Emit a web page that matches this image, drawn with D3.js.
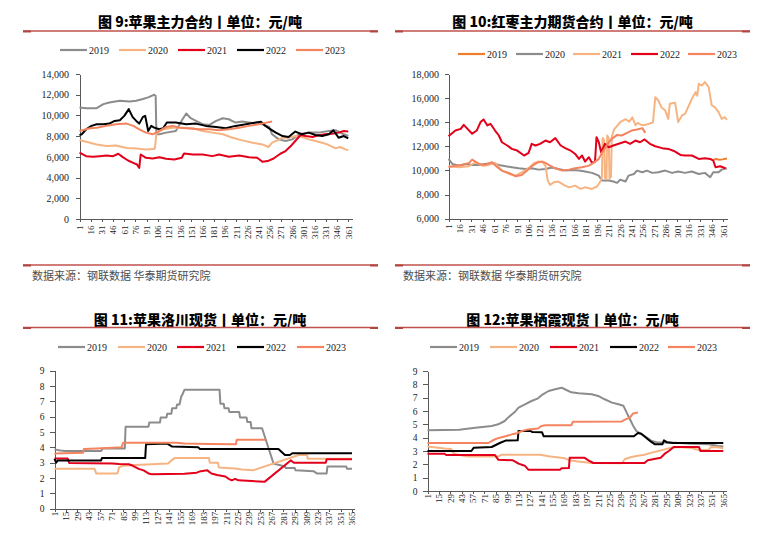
<!DOCTYPE html>
<meta charset="utf-8">
<script src="https://d3js.org/d3.v7.min.js"></script>
<style>
body { margin: 0; background: #fff; }
svg { display: block; }
.title { font-family: "Noto Sans CJK SC", sans-serif; font-weight: 900; font-size: 14px; fill: #000; }
.source { font-family: "Noto Sans CJK SC", sans-serif; font-size: 11px; fill: #4d4d4d; }
.legend text { font-family: "Liberation Serif", serif; font-size: 10px; fill: #222; }
.axis text { font-family: "Liberation Serif", serif; fill: #222; }
.axis path, .axis line { stroke: #595959; shape-rendering: crispEdges; }
.series { fill: none; stroke-width: 2; stroke-linejoin: round; }
</style>
<body></body>
<script>

var years = ["2019", "2020", "2021", "2022", "2023"];

var daysFut = [1,16,31,46,61,76,91,106,121,136,151,166,181,196,211,226,241,256,271,286,301,316,331,346,361];
var daysSpot = [1,15,29,43,57,71,85,99,113,127,141,155,169,183,197,211,225,239,253,267,281,295,309,323,337,351,365];
var ticksFut9 = [0,2000,4000,6000,8000,10000,12000,14000];
var ticksFut10 = [6000,8000,10000,12000,14000,16000,18000];
var ticksSpot = [0,1,2,3,4,5,6,7,8,9];

// 图9 苹果主力合约 [day, 元/吨]
var apFut2019 = [[1,10770],[10,10700],[24,10700],[33,11090],[41,11250],[55,11420],[68,11350],[77,11420],[86,11580],[93,11740],[101,12000],[103,11900],[104,8180],[108,8180],[117,8340],[130,8500],[139,9630],[144,10190],[150,9730],[157,9470],[166,9150],[175,9080],[184,9470],[193,9730],[201,9630],[210,9310],[219,9410],[228,9310],[237,9210],[246,9150],[255,8890],[259,8180],[268,7690],[277,7530],[286,7690],[295,8180],[308,8340],[321,8340],[335,8500],[344,8570],[353,8240],[361,8010]];
var apFut2020 = [[1,7600],[10,7450],[24,7200],[37,7050],[50,7100],[64,6850],[77,6800],[90,6700],[100,6750],[102,6800],[104,8300],[113,8660],[126,8820],[139,8820],[153,8760],[166,8500],[179,8340],[193,8180],[206,7850],[219,7590],[233,7370],[246,7200],[254,6950],[259,7370],[266,7590],[273,7850],[281,7850],[290,8010],[299,7920],[308,7690],[317,7530],[326,7370],[335,7140],[344,6820],[350,6950],[357,6720],[361,6650]];
var apFut2021 = [[1,6400],[10,6070],[19,6010],[28,6070],[37,6140],[46,6070],[53,6300],[59,5970],[66,5650],[73,5420],[78,5260],[81,4940],[83,6230],[90,5910],[99,5840],[108,5970],[117,5810],[128,5750],[138,5910],[141,6330],[153,6230],[166,6230],[179,6070],[188,6230],[201,6010],[215,6140],[228,5970],[239,5910],[246,5520],[253,5590],[261,5840],[270,6300],[277,6560],[284,7040],[290,7530],[297,8110],[304,8010],[313,7920],[321,8080],[330,8180],[339,8240],[348,8340],[355,8500],[361,8440]];
var apFut2022 = [[1,8100],[4,8180],[10,8660],[17,8990],[24,9150],[33,9150],[41,9210],[48,9470],[55,9540],[61,9960],[67,10610],[72,9860],[77,9470],[81,9210],[86,9860],[89,9960],[93,8500],[97,8990],[101,8820],[108,8660],[113,8760],[118,9310],[130,9310],[144,9150],[157,9210],[170,8990],[184,8890],[197,8760],[210,8990],[224,9150],[237,9310],[244,9380],[250,8990],[257,8660],[264,8340],[273,8010],[281,7920],[290,8440],[299,8180],[308,8340],[317,8110],[326,8010],[335,8180],[341,8570],[348,7850],[355,8010],[361,7790]];
var apFut2023 = [[1,8500],[15,8760],[24,8820],[37,8990],[50,9150],[64,9210],[73,8990],[81,8660],[90,8340],[99,8180],[108,8500],[117,8890],[126,8990],[135,8820],[148,8730],[161,8660],[175,8660],[188,8570],[201,8660],[215,8820],[228,8990],[241,9150],[250,9280],[259,9410]];

// 图10 红枣主力期货合约 [day, 元/吨]
var jjFut2019 = [[348,10900],[352,10950],[356,10880],[360,10920],[366,11000]];
var jjFut2020 = [[1,10960],[6,10540],[15,10400],[23,10540],[32,10460],[41,10460],[49,10540],[58,10630],[67,10460],[76,10350],[84,10270],[93,10180],[102,10130],[110,10180],[119,10070],[128,10130],[137,10240],[145,10130],[154,9990],[163,10040],[172,9990],[180,9910],[189,9800],[198,9570],[202,9160],[211,9160],[217,9080],[222,8970],[226,9240],[233,9080],[237,9570],[244,9710],[248,9990],[255,9850],[261,9990],[268,9800],[276,9850],[285,9990],[294,9800],[302,9910],[311,9800],[320,9910],[329,9710],[337,9800],[344,9440],[348,9850],[355,9850],[359,10070],[366,10180]];
var jjFut2021 = [[1,10350],[15,10270],[28,10350],[36,10680],[45,10400],[54,10460],[62,10630],[71,9990],[80,9710],[89,9570],[97,9850],[106,10180],[113,10600],[119,10740],[124,10700],[128,10400],[131,9200],[134,8800],[139,9020],[145,9080],[152,8800],[159,8600],[167,8740],[174,8470],[180,8600],[189,8470],[196,8690],[200,9080],[202,9400],[203,12700],[205,12500],[206,9400],[208,9300],[209,12900],[211,12700],[212,9300],[214,9500],[215,12800],[218,13400],[222,13700],[226,14000],[233,14250],[238,14050],[242,14400],[246,13750],[249,13950],[253,13800],[257,13750],[264,13870],[269,14000],[272,16080],[276,15800],[280,15250],[285,14980],[289,14280],[291,15530],[298,15610],[302,14010],[307,14560],[311,14700],[316,15390],[320,15940],[325,16500],[327,16200],[329,17190],[333,17050],[337,17330],[342,16910],[346,15390],[350,15250],[355,14840],[359,14280],[363,14420],[366,14200]];
var jjFut2022 = [[1,12840],[10,13310],[17,13450],[21,13780],[25,13510],[32,13040],[38,13310],[43,14010],[47,14230],[52,13730],[56,13870],[62,13310],[67,12900],[71,12340],[78,12070],[84,11790],[91,11650],[100,11240],[106,11460],[110,12210],[115,12070],[121,12210],[128,12480],[134,12340],[141,12680],[148,12070],[154,11850],[161,11650],[167,11370],[172,10960],[176,11240],[180,10740],[185,11100],[189,10630],[193,10740],[195,12760],[198,12340],[201,11510],[206,12210],[211,11930],[217,12070],[224,12210],[233,12400],[239,12210],[246,12480],[252,12340],[258,12570],[265,12210],[272,12010],[281,11850],[289,11790],[298,11570],[305,11290],[311,11240],[320,11240],[329,10960],[337,11010],[344,10960],[348,10820],[351,10270],[357,10350],[364,10180]];
var jjFut2023 = [[1,10270],[10,10400],[19,10460],[28,10630],[32,10900],[41,10540],[49,10460],[58,10680],[65,10270],[71,9990],[80,9800],[89,9520],[97,9630],[104,9990],[110,10350],[117,10630],[124,10740],[128,10630],[134,10400],[141,10180],[150,9990],[159,10070],[167,10180],[176,10270],[185,10400],[191,10630],[198,10960],[202,11460],[207,11930],[211,12340],[215,12620],[222,12950],[228,12900],[235,13120],[241,13310],[248,13400],[255,13510],[259,13120]];

// 图11 苹果洛川现货 [day, 元/斤]
var lcSpot2019 = [[1,3.87],[8,3.8],[14,3.76],[58,3.76],[60,3.93],[87,3.93],[88,5.35],[116,5.35],[117,5.62],[130,5.62],[131,5.95],[138,5.95],[139,6.2],[144,6.2],[145,6.55],[150,6.55],[151,6.8],[154,6.8],[156,7.3],[158,7.5],[160,7.75],[203,7.75],[204,6.85],[208,6.85],[209,6.55],[214,6.55],[215,6.3],[227,6.3],[228,5.95],[236,5.95],[237,5.65],[241,5.65],[242,5.25],[255,5.25],[269,2.95],[283,2.75],[284,2.65],[295,2.65],[296,2.5],[318,2.45],[322,2.3],[334,2.3],[335,2.75],[358,2.75],[359,2.6],[365,2.6]];
var lcSpot2020 = [[1,2.6],[50,2.6],[52,2.3],[78,2.3],[80,2.7],[84,2.8],[100,2.85],[120,2.9],[140,2.95],[144,3.15],[148,3.3],[190,3.3],[191,3.0],[201,3.0],[202,2.68],[222,2.62],[230,2.55],[244,2.5],[300,3.5],[310,3.5],[311,3.25],[365,3.25]];
var lcSpot2021 = [[1,3.28],[17,3.28],[19,2.98],[72,2.95],[80,2.92],[92,2.9],[97,2.8],[104,2.6],[110,2.5],[116,2.3],[120,2.25],[160,2.28],[175,2.35],[180,2.45],[188,2.5],[193,2.3],[200,2.2],[210,2.1],[214,1.95],[218,1.85],[222,1.95],[226,1.85],[242,1.8],[258,1.75],[290,3.15],[294,3.0],[333,3.0],[334,3.22],[365,3.22]];
var lcSpot2022 = [[1,3.25],[3,3.0],[5,3.15],[58,3.15],[59,3.3],[112,3.3],[113,4.2],[139,4.25],[145,4.05],[177,4.0],[179,3.9],[275,3.9],[283,3.5],[289,3.5],[292,3.62],[365,3.62]];
var lcSpot2023 = [[1,3.6],[36,3.65],[37,3.9],[60,3.95],[83,4.0],[85,4.3],[150,4.3],[160,4.25],[190,4.22],[223,4.2],[224,4.5],[259,4.5]];

// 图12 苹果栖霞现货 [day, 元/斤]
var qxSpot2019 = [[1,4.55],[40,4.6],[60,4.75],[80,4.88],[88,5.0],[96,5.25],[100,5.5],[108,5.9],[113,6.25],[121,6.5],[129,6.75],[137,6.95],[143,7.25],[150,7.5],[158,7.63],[166,7.75],[170,7.63],[178,7.4],[187,7.33],[203,7.25],[211,7.13],[219,6.88],[228,6.63],[236,6.5],[242,6.4],[246,5.9],[250,5.4],[254,4.9],[258,4.5],[265,4.25],[271,4.0],[277,3.75],[285,3.63],[305,3.62],[326,3.55],[347,3.5],[359,3.38],[365,3.33]];
var qxSpot2020 = [[1,3.33],[14,3.25],[22,3.18],[30,3.15],[32,2.9],[36,2.75],[50,2.58],[88,2.58],[92,2.72],[140,2.72],[150,2.6],[170,2.45],[176,2.3],[186,2.22],[195,2.15],[203,2.1],[240,2.08],[244,2.4],[252,2.55],[260,2.65],[268,2.72],[277,2.88],[285,3.0],[293,3.12],[301,3.25],[310,3.3],[326,3.22],[336,3.05],[347,3.1],[350,3.3],[358,3.28],[365,3.2]];
var qxSpot2021 = [[1,2.8],[22,2.8],[24,2.7],[84,2.7],[88,2.35],[106,2.3],[109,2.2],[113,2.05],[118,1.95],[121,1.88],[125,1.6],[164,1.6],[166,1.7],[175,1.72],[176,2.5],[194,2.5],[199,2.3],[205,2.1],[268,2.1],[272,2.3],[280,2.4],[288,2.5],[293,2.8],[298,3.0],[304,3.3],[335,3.3],[337,3.0],[365,3.0]];
var qxSpot2022 = [[1,3.0],[55,3.0],[58,3.25],[80,3.3],[85,3.45],[90,3.6],[97,3.78],[112,3.8],[113,4.5],[128,4.5],[130,4.42],[142,4.4],[144,4.1],[255,4.1],[260,4.35],[264,4.3],[270,4.0],[276,3.7],[281,3.5],[290,3.5],[292,3.8],[296,3.65],[303,3.6],[365,3.6]];
var qxSpot2023 = [[1,3.6],[76,3.6],[80,3.75],[84,3.88],[90,4.0],[98,4.12],[105,4.25],[111,4.33],[117,4.5],[125,4.62],[137,4.68],[141,4.88],[146,4.93],[178,4.93],[180,5.2],[240,5.22],[244,5.35],[250,5.5],[254,5.82],[260,5.88]];

var cGray = "#8c8c8c", cLight = "#f7b483", cRed = "#e2001a", cBlack = "#000000", cSalmon = "#f4845f", cOrange = "#ee7d2e";

var sourceText = "数据来源：钢联数据 华泰期货研究院";

var panels = [
  { title: "图 9:苹果主力合约丨单位：元/吨", cx: 200, titleY: 26.5, rule: [23, 378, 31],
    legendY: 50, legendX: [60, 119, 178, 237, 296],
    xRange: [79.5, 352], xDomain: [1, 366], xTicks: daysFut,
    yRange: [219, 74], yDomain: [0, 14000], yTicks: ticksFut9, yFmt: d3.format(","),
    tickY: 4, padY: 6.5, fontY: 10, xOff: 6.5,
    series: [apFut2019, apFut2020, apFut2021, apFut2022, apFut2023],
    colors: [cGray, cLight, cRed, cBlack, cSalmon],
    source: { x1: 23, x2: 378, y: 265, tx: 32, ty: 279.5 } },
  { title: "图 10:红枣主力期货合约丨单位：元/吨", cx: 572.5, titleY: 26.5, rule: [395, 750, 31],
    legendY: 54, legendX: [458, 516, 573, 631, 688],
    xRange: [448.5, 727], xDomain: [1, 366], xTicks: daysFut,
    yRange: [218.7, 74], yDomain: [6000, 18000], yTicks: ticksFut10, yFmt: d3.format(","),
    tickY: 4, padY: 5.5, fontY: 10, xOff: 5.5,
    series: [jjFut2019, jjFut2020, jjFut2021, jjFut2022, jjFut2023],
    colors: [cOrange, cGray, cLight, cRed, cSalmon],
    source: { x1: 395, x2: 750, y: 265, tx: 403, ty: 279.5 } },
  { title: "图 11:苹果洛川现货丨单位：元/吨", cx: 200, titleY: 325, rule: [23, 378, 327.5],
    legendY: 347, legendX: [58, 118, 177, 237, 297],
    xRange: [54.5, 354], xDomain: [1, 367.5], xTicks: daysSpot,
    yRange: [508.7, 370.7], yDomain: [0, 9], yTicks: ticksSpot, yFmt: d3.format("d"),
    tickY: 5, padY: 5, fontY: 9.5, xOff: 3,
    series: [lcSpot2019, lcSpot2020, lcSpot2021, lcSpot2022, lcSpot2023],
    colors: [cGray, cLight, cRed, cBlack, cSalmon] },
  { title: "图 12:苹果栖霞现货丨单位：元/吨", cx: 572.5, titleY: 325, rule: [395, 750, 327.5],
    legendY: 347, legendX: [430, 490, 550, 610, 668],
    xRange: [427.5, 726.7], xDomain: [1, 369.2], xTicks: daysSpot,
    yRange: [491, 371], yDomain: [0, 9], yTicks: ticksSpot, yFmt: d3.format("d"),
    tickY: 5, padY: 5, fontY: 9.5, xOff: 3,
    series: [qxSpot2019, qxSpot2020, qxSpot2021, qxSpot2022, qxSpot2023],
    colors: [cGray, cLight, cRed, cBlack, cSalmon] }
];

var svg = d3.select("body").append("svg")
    .attr("width", 781)
    .attr("height", 536);

function rule(g, x1, x2, y) {
  g.append("line").attr("x1", x1).attr("x2", x2).attr("y1", y).attr("y2", y)
    .attr("stroke", "#c0504d").attr("stroke-width", 1.3);
  // thicker ends like the report template
  g.append("line").attr("x1", x1).attr("x2", x1 + 8).attr("y1", y + 0.5).attr("y2", y + 0.5)
    .attr("stroke", "#b04642").attr("stroke-width", 2);
  g.append("line").attr("x1", x2 - 8).attr("x2", x2).attr("y1", y + 0.5).attr("y2", y + 0.5)
    .attr("stroke", "#b04642").attr("stroke-width", 2);
}

panels.forEach(function(p) {
  var g = svg.append("g");

  g.append("text").attr("class", "title")
    .attr("x", p.cx).attr("y", p.titleY)
    .attr("text-anchor", "middle")
    .text(p.title);
  rule(g, p.rule[0], p.rule[1], p.rule[2]);

  // legend
  var leg = g.append("g").attr("class", "legend");
  years.forEach(function(yr, i) {
    leg.append("line")
      .attr("x1", p.legendX[i]).attr("x2", p.legendX[i] + 27)
      .attr("y1", p.legendY).attr("y2", p.legendY)
      .attr("stroke", p.colors[i]).attr("stroke-width", 2.2);
    leg.append("text")
      .attr("x", p.legendX[i] + 29).attr("y", p.legendY)
      .attr("dy", "0.35em")
      .text(yr);
  });

  var x = d3.scaleLinear().domain(p.xDomain).range(p.xRange);
  var y = d3.scaleLinear().domain(p.yDomain).range(p.yRange);

  var yAxis = d3.axisLeft(y).tickValues(p.yTicks).tickFormat(p.yFmt)
    .tickSize(p.tickY).tickSizeOuter(0).tickPadding(p.padY);
  g.append("g").attr("class", "y axis")
    .attr("transform", "translate(" + p.xRange[0] + ",0)")
    .call(yAxis)
    .selectAll("text").style("font-size", p.fontY + "px");

  var xAxis = d3.axisBottom(x).tickValues(p.xTicks).tickSize(3).tickSizeOuter(0);
  var xg = g.append("g").attr("class", "x axis")
    .attr("transform", "translate(0," + p.yRange[0] + ")")
    .call(xAxis);
  xg.selectAll("text")
    .style("font-size", "9px")
    .attr("transform", "rotate(-90)")
    .attr("text-anchor", "end")
    .attr("x", -p.xOff)
    .attr("y", 0)
    .attr("dy", "0.32em");

  var line = d3.line()
    .x(function(d) { return x(d[0]); })
    .y(function(d) { return y(d[1]); });

  p.series.forEach(function(s, i) {
    g.append("path").attr("class", "series")
      .attr("d", line(s))
      .attr("stroke", p.colors[i]);
  });

  if (p.source) {
    rule(g, p.source.x1, p.source.x2, p.source.y);
    g.append("text").attr("class", "source")
      .attr("x", p.source.tx).attr("y", p.source.ty)
      .text(sourceText);
  }
});

</script>
